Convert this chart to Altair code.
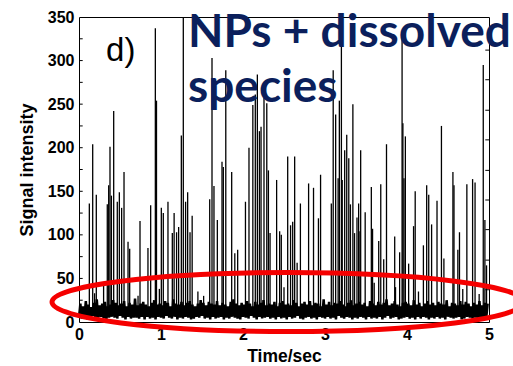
import altair as alt
import pandas as pd

# Spike events (time in s, peak signal)
spike_t = [0.126, 0.167, 0.211, 0.345, 0.362, 0.378, 0.395, 0.423, 0.467, 0.492,
           0.52, 0.549, 0.598, 0.618, 0.744, 0.841, 0.874, 0.931, 0.945, 1.004,
           1.028, 1.085, 1.138, 1.16, 1.19, 1.215, 1.248, 1.272, 1.30, 1.325,
           1.354, 1.38, 1.594, 1.622, 1.646, 1.687, 1.744, 1.76, 1.79, 1.862,
           1.90, 1.935, 2.03, 2.073, 2.12, 2.15, 2.175, 2.20, 2.22, 2.256,
           2.29, 2.31, 2.33, 2.41, 2.447, 2.467, 2.545, 2.58, 2.606, 2.63,
           2.66, 2.70, 2.80, 2.86, 2.92, 2.946, 3.077, 3.10, 3.13, 3.16,
           3.175, 3.20, 3.21, 3.24, 3.265, 3.29, 3.31, 3.34, 3.36, 3.39,
           3.41, 3.415, 3.435, 3.49, 3.565, 3.58, 3.655, 3.68, 3.716, 3.75,
           3.85, 3.91, 3.94, 3.95, 3.963, 3.98, 4.02, 4.08, 4.10, 4.20,
           4.24, 4.265, 4.30, 4.366, 4.42, 4.45, 4.56, 4.573, 4.62, 4.64,
           4.73, 4.80, 4.83, 4.93, 4.95, 4.97,
           0.19, 0.30, 0.72, 0.98, 1.45, 1.52, 2.50, 3.60, 3.86, 4.14, 4.68, 4.88]
spike_v = [136, 204, 146, 135, 157, 201, 145, 242, 138, 149,
           131, 172, 92, 84, 116, 85, 134, 337, 254, 131,
           125, 138, 102, 125, 103, 109, 214, 350, 138, 149,
           103, 122, 141, 303, 156, 117, 184, 178, 289, 172,
           79, 83, 138, 200, 249, 261, 284, 219, 224, 257,
           251, 174, 102, 163, 104, 100, 190, 111, 115, 190,
           68, 136, 159, 154, 119, 169, 136, 289, 238, 165,
           254, 350, 163, 197, 215, 188, 135, 250, 102, 120,
           136, 104, 197, 126, 155, 107, 93, 158, 72, 204,
           98, 80, 326, 228, 165, 213, 67, 110, 150, 88,
           157, 146, 112, 139, 225, 73, 172, 157, 83, 103,
           158, 164, 160, 295, 117, 65,
           33, 42, 30, 38, 35, 30, 40, 45, 40, 35, 38, 32]

# Noisy baseline: lower and upper envelope samples across 0-5 s
base_lo = [5,4,6,3,5,7,4,5,6,4,3,5,6,5,4,7,5,3,6,4,5,5,4,6,3,
           6,4,5,3,6,5,4,7,5,4,6,3,5,4,6,5,3,4,6,5,7,4,5,3,6,
           4,5,6,3,5,4,6,5,4,3,6,5,4,7,5,3,6,4,5,6,4,5,3,6,4,
           5,3,6,4,5,7,4,3,5,6,4,5,3,6,5,4,6,4,5,3,7,5,4,6,5,
           3,5,4,6,5,3,6,4,5,4,6,3,5,7,4,5,6,3,4,5,6,4,5,3,6,
           4,6,5,3,5,4,6,4,5,3,6,5,4,5,6,3,4,6,5,4,5,3,6,4,5]
base_hi = [21,18,24,20,17,22,26,19,21,23,18,20,25,22,19,21,24,18,22,20,27,19,21,23,20,
           18,22,25,20,21,19,24,22,18,26,21,20,23,19,22,24,20,18,21,25,22,19,23,21,20,
           24,19,22,20,18,23,26,21,19,22,20,24,21,18,23,20,22,25,19,21,20,23,18,22,24,
           20,21,19,25,22,18,21,23,20,24,19,22,21,18,26,20,23,19,22,21,24,20,18,22,25,
           19,21,23,20,22,18,24,21,19,23,20,22,26,19,21,24,20,18,22,23,21,19,25,20,22,
           18,21,24,20,22,19,23,21,20,25,18,22,21,19,24,20,23,21,18,22,20,24,19,22,21]

y_ticks = [0, 50, 100, 150, 200, 250, 300, 350]
x_ticks = [0, 1, 2, 3, 4, 5]
left_minor = [25, 50, 75, 100, 125, 150, 175, 200, 225, 250, 275, 300, 325]
right_minor = [37, 71, 106, 140, 174, 209, 243, 278, 312]

NAVY = "#0b1f5c"

n = len(base_lo)
rows = []
for i in range(n):
    rows.append({"t": i * 5.0 / n, "v": base_lo[i], "o": 2 * i})
    rows.append({"t": (i + 0.5) * 5.0 / n, "v": base_hi[i], "o": 2 * i + 1})
base_df = pd.DataFrame(rows)
spike_df = pd.DataFrame({"t": spike_t, "v": spike_v, "b": [12] * len(spike_t)})

xs = alt.Scale(domain=[0, 5], nice=False, zero=False)
ys = alt.Scale(domain=[0, 350], nice=False)

x_enc = alt.X("t:Q", scale=xs, axis=alt.Axis(values=x_ticks, title="Time/sec", format="d"))
y_enc = alt.Y("v:Q", scale=ys, axis=alt.Axis(values=y_ticks, title="Signal intensity"))

base_line = alt.Chart(base_df).mark_line(color="black", strokeWidth=2.5).encode(
    x=x_enc, y=y_enc, order="o:Q"
)

spikes = alt.Chart(spike_df).mark_rule(color="black", strokeWidth=1.3).encode(
    x=alt.X("t:Q", scale=xs), y=alt.Y("b:Q", scale=ys), y2="v:Q"
)

lt_df = pd.DataFrame({"v": left_minor, "x1": [0.0] * len(left_minor), "x2": [0.045] * len(left_minor)})
rt_df = pd.DataFrame({"v": right_minor, "x1": [4.955] * len(right_minor), "x2": [5.0] * len(right_minor)})
left_ticks = alt.Chart(lt_df).mark_rule(color="black", strokeWidth=1).encode(
    x=alt.X("x1:Q", scale=xs), x2="x2:Q", y=alt.Y("v:Q", scale=ys)
)
right_ticks = alt.Chart(rt_df).mark_rule(color="black", strokeWidth=1).encode(
    x=alt.X("x1:Q", scale=xs), x2="x2:Q", y=alt.Y("v:Q", scale=ys)
)

ellipse_path = ("M -1 0 C -1 -0.069 -0.552 -0.125 0 -0.125 "
                "C 0.552 -0.125 1 -0.069 1 0 "
                "C 1 0.069 0.552 0.125 0 0.125 "
                "C -0.552 0.125 -1 0.069 -1 0 Z")
ell_df = pd.DataFrame({"t": [2.549], "v": [22.9]})
ellipse = alt.Chart(ell_df).mark_point(
    shape=ellipse_path, filled=False, stroke="#f50000", strokeWidth=5,
    size=222784, opacity=1
).encode(x=alt.X("t:Q", scale=xs), y=alt.Y("v:Q", scale=ys))

label_df = pd.DataFrame({"t": [0.33], "v": [299.5], "s": ["d)"]})
label_d = alt.Chart(label_df).mark_text(
    font="Liberation Sans", fontSize=33, align="left", baseline="alphabetic", color="black"
).encode(x=alt.X("t:Q", scale=xs), y=alt.Y("v:Q", scale=ys), text="s:N")

title_df = pd.DataFrame({"t": [1.329, 1.329], "v": [315.5, 252.0], "s": ["NPs + dissolved", "species"]})
big_title = alt.Chart(title_df).mark_text(
    font="Lato", fontSize=46, fontWeight="bold", align="left", baseline="alphabetic", color=NAVY
).encode(x=alt.X("t:Q", scale=xs), y=alt.Y("v:Q", scale=ys), text="s:N")

chart = alt.layer(
    base_line, spikes, left_ticks, right_ticks, big_title, label_d, ellipse
).properties(
    width=410, height=305,
    autosize=alt.AutoSizeParams(type="none"),
    padding={"left": 79, "top": 17, "right": 24, "bottom": 44},
).configure_view(
    stroke="black", strokeWidth=1
).configure_axis(
    grid=False, domain=False, ticks=False,
    labelFont="Liberation Sans", labelFontSize=16, labelFontWeight="bold", labelColor="black",
    titleFont="Liberation Sans", titleFontWeight="bold", titleColor="black",
    labelPadding=4,
).configure_axisX(
    titlePadding=5, labelFlush=False, titleFontSize=17.5
).configure_axisY(
    titlePadding=11, labelPadding=5, titleFontSize=18
)

chart.save("out.html", embed_options={"renderer": "svg", "actions": False})
